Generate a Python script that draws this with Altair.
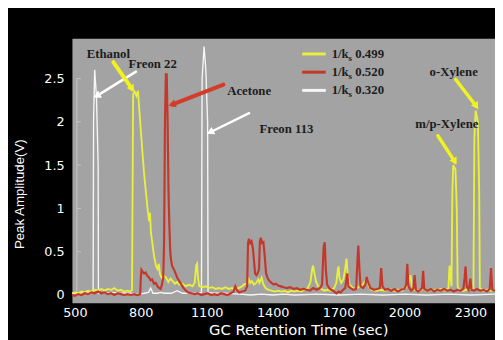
import altair as alt
import pandas as pd

# ---------------- data ----------------
x_ticks = [500, 800, 1100, 1400, 1700, 2000, 2300]
y_ticks = [0, 0.5, 1, 1.5, 2, 2.5]

white_t = [487, 520, 560, 583, 585, 590, 598, 606, 607, 630, 670, 710, 750, 790, 815, 835, 845, 855, 875, 890, 905, 940, 965, 990,
           1020, 1050, 1076, 1079, 1088, 1096, 1104, 1106, 1130, 1180, 1250, 1300, 1350, 1400, 1450, 1500, 1600, 1700,
           1800, 1900, 2000, 2100, 2200, 2300, 2412]
white_v = [0.02, 0.02, 0.03, 0.02, 2.0, 2.6, 2.3, 1.5, 0.02, 0.02, 0.03, 0.02, 0.02, 0.01, 0.02, 0.03, 0.08, 0.02, 0.02, 0.03, 0.02, 0.02, 0.05, 0.02,
           0.02, 0.02, 0.03, 2.5, 2.87, 2.6, 2.0, 0.03, 0.02, 0.02, 0.01, 0.0, 0.01, 0.0, 0.01, 0.0, 0.01, 0.0,
           0.01, 0.0, 0.01, 0.0, 0.01, 0.0, 0.01]

yellow_t = [487, 500, 515, 530, 545, 560, 575, 590, 605, 620, 635, 650, 665, 680, 695, 710, 725, 740, 752, 760,
            763, 765, 772, 780, 787, 800, 815, 831, 838, 842, 846, 850, 860, 870, 876, 882, 887, 895, 905, 915,
            925, 935, 945, 955, 965, 975, 990, 1005, 1020, 1035, 1045, 1052, 1056, 1060, 1066, 1080, 1095, 1110,
            1125, 1140, 1155, 1170, 1185, 1200, 1215, 1230, 1245, 1260, 1275, 1285, 1292, 1298, 1305, 1315, 1325,
            1335, 1340, 1350, 1358, 1368, 1380, 1395, 1410, 1425, 1440, 1455, 1470, 1485, 1500, 1515, 1530, 1545,
            1560, 1572, 1580, 1584, 1590, 1598, 1608, 1620, 1635, 1650, 1665, 1680, 1690, 1697, 1700, 1704, 1712,
            1722, 1730, 1736, 1741, 1750, 1765, 1780, 1795, 1810, 1822, 1830, 1838, 1850, 1870, 1890, 1910, 1930,
            1950, 1970, 1990, 2005, 2018, 2027, 2034, 2045, 2065, 2085, 2105, 2125, 2145, 2165, 2185, 2200, 2205,
            2210, 2214, 2218, 2222, 2232, 2238, 2242, 2250, 2270, 2290, 2305, 2314, 2318, 2324, 2334, 2340, 2343,
            2360, 2380, 2395, 2412]
yellow_v = [0.02, 0.03, 0.02, 0.04, 0.03, 0.05, 0.04, 0.06, 0.05, 0.07, 0.05, 0.07, 0.06, 0.08, 0.05, 0.06, 0.04, 0.05, 0.04, 0.06,
            1.4, 2.32, 2.35, 2.3, 2.36, 1.9, 1.4, 0.99, 0.85, 0.95, 0.72, 0.65, 0.45, 0.33, 0.3, 0.36, 0.24, 0.2, 0.22, 0.2,
            0.15, 0.19, 0.16, 0.13, 0.15, 0.12, 0.13, 0.1, 0.12, 0.1, 0.14, 0.34, 0.36, 0.2, 0.1, 0.09, 0.1, 0.08,
            0.09, 0.07, 0.08, 0.07, 0.09, 0.07, 0.08, 0.06, 0.08, 0.1, 0.13, 0.12, 0.18, 0.14, 0.16, 0.12, 0.14,
            0.18, 0.14, 0.2, 0.12, 0.08, 0.06, 0.05, 0.04, 0.05, 0.04, 0.05, 0.03, 0.05, 0.04, 0.05, 0.04, 0.06,
            0.08, 0.15, 0.3, 0.34, 0.25, 0.15, 0.1, 0.07, 0.05, 0.06, 0.05, 0.08, 0.14, 0.3, 0.33, 0.2, 0.14,
            0.18, 0.3, 0.42, 0.25, 0.12, 0.08, 0.07, 0.1, 0.12, 0.16, 0.19, 0.1, 0.06, 0.05, 0.06, 0.05, 0.07,
            0.05, 0.06, 0.05, 0.08, 0.12, 0.23, 0.1, 0.06, 0.05, 0.07, 0.05, 0.06, 0.05, 0.07, 0.05, 0.08, 0.34,
            0.2, 0.1, 1.2, 1.5, 1.45, 1.0, 0.1, 0.06, 0.05, 0.07, 0.06, 0.08, 1.8, 2.13, 2.0, 1.2, 0.08,
            0.05, 0.06, 0.05, 0.06]

red_t = [487, 500, 515, 530, 545, 560, 575, 590, 605, 620, 635, 650, 665, 680, 695, 710, 725, 740, 755, 770,
         785, 797, 800, 803, 808, 815, 822, 830, 838, 845, 852, 860, 868, 876, 884, 890, 896, 902, 906, 910,
         914, 918, 922, 926, 930, 934, 938, 943, 950, 958, 966, 975, 985, 995, 1005, 1015, 1030, 1045, 1060,
         1075, 1090, 1105, 1120, 1135, 1150, 1165, 1180, 1195, 1210, 1222, 1230, 1236, 1248, 1260, 1275, 1284,
         1288, 1292, 1298, 1304, 1310, 1315, 1320, 1326, 1332, 1338, 1342, 1346, 1352, 1358, 1364, 1370, 1378,
         1386, 1395, 1405, 1415, 1425, 1438, 1450, 1465, 1480, 1495, 1510, 1525, 1540, 1555, 1570, 1585, 1600,
         1615, 1625, 1632, 1637, 1642, 1648, 1660, 1675, 1690, 1700, 1710, 1720, 1730, 1740, 1745, 1755, 1768,
         1780, 1786, 1790, 1795, 1800, 1812, 1822, 1828, 1834, 1845, 1860, 1875, 1888, 1894, 1900, 1912, 1925,
         1940, 1955, 1970, 1985, 2000, 2008, 2013, 2018, 2030, 2040, 2046, 2052, 2062, 2072, 2080, 2085, 2090,
         2105, 2120, 2135, 2150, 2165, 2180, 2195, 2210, 2225, 2240, 2255, 2268, 2274, 2278, 2283, 2292, 2300,
         2305, 2318, 2330, 2345, 2360, 2375, 2388, 2394, 2400, 2412]
red_v = [0.0, -0.01, 0.01, 0.0, 0.02, 0.01, 0.03, 0.02, 0.04, 0.02, 0.03, 0.01, 0.02, 0.0, 0.02, 0.01, 0.0, 0.01, 0.0, 0.01,
         0.0, 0.01, 0.2, 0.29, 0.27, 0.25, 0.26, 0.22, 0.2, 0.17, 0.18, 0.13, 0.14, 0.1, 0.08, 0.07, 0.12, 0.2, 0.6, 2.0,
         2.55, 2.55, 2.0, 1.2, 0.8, 0.5, 0.4, 0.33, 0.3, 0.25, 0.2, 0.16, 0.12, 0.08, 0.05, 0.03, 0.02, 0.01, 0.02,
         0.0, 0.01, 0.02, 0.0, 0.01, 0.0, 0.02, 0.01, 0.0, 0.02, 0.04, 0.1, 0.06, 0.03, 0.04, 0.05, 0.1,
         0.6, 0.65, 0.6, 0.62, 0.54, 0.4, 0.25, 0.23, 0.25, 0.3, 0.62, 0.66, 0.6, 0.61, 0.45, 0.25, 0.19,
         0.16, 0.14, 0.12, 0.13, 0.11, 0.1, 0.09, 0.08, 0.09, 0.07, 0.08, 0.06, 0.07, 0.06, 0.05, 0.08, 0.06,
         0.08, 0.12, 0.55, 0.61, 0.3, 0.12, 0.07, 0.05, 0.02, 0.04, 0.03, 0.06, 0.08, 0.25, 0.1, 0.08, 0.06,
         0.07, 0.4, 0.57, 0.3, 0.1, 0.08, 0.12, 0.21, 0.15, 0.08, 0.06, 0.07, 0.08, 0.31, 0.1, 0.06, 0.07,
         0.05, 0.07, 0.04, 0.06, 0.07, 0.12, 0.36, 0.1, 0.05, 0.07, 0.23, 0.06, 0.04, 0.06, 0.08, 0.28, 0.07,
         0.05, 0.07, 0.04, 0.06, 0.05, 0.07, 0.05, 0.06, 0.04, 0.06, 0.05, 0.07, 0.2, 0.33, 0.1, 0.06, 0.19,
         0.06, 0.05, 0.07, 0.05, 0.06, 0.04, 0.07, 0.31, 0.06, 0.05]

legend_values = ["0.499", "0.520", "0.320"]
legend_colors = ["#e8ef3c", "#c4382c", "#f6f6f6"]

ann_text = ["Ethanol", "Freon 22", "Acetone", "Freon 113", "o-Xylene", "m/p-Xylene"]
ann_t = [652, 854, 1293, 1463, 2224, 2193]
ann_v = [2.78, 2.67, 2.35, 1.92, 2.57, 1.98]

arr_t1 = [778, 675, 1176, 1293, 2233, 2152]
arr_v1 = [2.58, 2.69, 2.43, 2.10, 2.49, 1.84]
arr_t2 = [600, 760, 942, 1116, 2327, 2229]
arr_v2 = [2.30, 2.38, 2.20, 1.88, 2.18, 1.54]
arr_color = ["#ffffff", "#f2f21e", "#d23c28", "#ffffff", "#f2f21e", "#f2f21e"]
arr_width = [2.5, 4, 4, 2.5, 3.5, 3.5]
arr_angle = [242, 148, 251, 243, 146, 151]

# ---------------- scales / axes ----------------
xs = alt.Scale(domain=[486.6, 2412], nice=False, zero=False)
ys = alt.Scale(domain=[-0.091, 2.966], nice=False, zero=False)

x_axis = alt.Axis(values=x_ticks, format="d", title="GC Retention Time (sec)", domain=False, ticks=False,
                  grid=False, labelColor="#ffffff", labelFont="DejaVu Sans", labelFontSize=13, labelPadding=4,
                  titleColor="#ffffff", titleFont="DejaVu Sans", titleFontSize=15, titleFontWeight="normal",
                  titleX=230, titleY=32, titleBaseline="alphabetic", titleAlign="center")
y_axis = alt.Axis(values=y_ticks, labelExpr="datum.value + ''", title="Peak Amplitude(V)", domain=False,
                  ticks=False, grid=False, labelColor="#ffffff", labelFont="DejaVu Sans", labelFontSize=13,
                  labelPadding=8, titleColor="#ffffff", titleFont="Liberation Sans", titleFontSize=13.5,
                  titleFontWeight="normal", titleX=-53, titleY=158, titleBaseline="middle", titleAlign="center")

X = alt.X("t:Q", scale=xs, axis=x_axis)
Y = alt.Y("v:Q", scale=ys, axis=y_axis)

df_w = pd.DataFrame({"t": white_t, "v": white_v})
df_y = pd.DataFrame({"t": yellow_t, "v": yellow_v})
df_r = pd.DataFrame({"t": red_t, "v": red_v})

layers = []

# faint inner y axis line with ticks
tick_df = pd.DataFrame({"t": [0] * len(y_ticks), "v": y_ticks})
layers.append(alt.Chart(pd.DataFrame({"t": [0], "v": [0], "v2": [2.5]})).mark_rule(color="#d0d0d0", strokeWidth=1, opacity=0.8)
              .encode(x=alt.value(5), y=Y, y2="v2:Q"))
layers.append(alt.Chart(tick_df).mark_rule(color="#d0d0d0", strokeWidth=1, opacity=0.8)
              .encode(x=alt.value(5), x2=alt.value(9), y=Y))

layers.append(alt.Chart(df_w).mark_line(color=legend_colors[2], strokeWidth=1.4, clip=True).encode(x=X, y=Y))
layers.append(alt.Chart(df_y).mark_line(color=legend_colors[0], strokeWidth=1.9, clip=True).encode(x=X, y=Y))
layers.append(alt.Chart(df_r).mark_line(color=legend_colors[1], strokeWidth=2.2, clip=True).encode(x=X, y=Y))

# arrows
arr_df = pd.DataFrame({"t": arr_t1, "v": arr_v1, "t2": arr_t2, "v2": arr_v2, "c": arr_color,
                       "w": arr_width, "a": arr_angle})
layers.append(alt.Chart(arr_df).mark_rule(strokeCap="round").encode(
    x=X, y=Y, x2="t2:Q", y2="v2:Q", color=alt.Color("c:N", scale=None),
    size=alt.Size("w:Q", scale=None)))
head_df = pd.DataFrame({"t": arr_t2, "v": arr_v2, "c": arr_color, "a": arr_angle})
layers.append(alt.Chart(head_df).mark_point(shape="triangle-up", filled=True, size=70, opacity=1).encode(
    x=X, y=Y, color=alt.Color("c:N", scale=None), angle=alt.Angle("a:Q", scale=None)))

# annotations
ann_df = pd.DataFrame({"t": ann_t, "v": ann_v, "txt": ann_text})
layers.append(alt.Chart(ann_df).mark_text(font="Liberation Serif", fontWeight="bold", fontSize=13,
                                          color="#1c1c1c", align="center", baseline="middle")
              .encode(x=X, y=Y, text="txt:N"))

# legend (drawn manually)
one = pd.DataFrame({"a": [0]})
for i, (val, col) in enumerate(zip(legend_values, legend_colors)):
    yy = 16 + 18.5 * i
    layers.append(alt.Chart(one).mark_rule(color=col, strokeWidth=3)
                  .encode(x=alt.value(234), x2=alt.value(258), y=alt.value(yy)))
    layers.append(alt.Chart(one).mark_text(text="1/k", font="Liberation Serif", fontWeight="bold", fontSize=13,
                                           color="#1c1c1c", align="left", baseline="middle")
                  .encode(x=alt.value(264), y=alt.value(yy)))
    layers.append(alt.Chart(one).mark_text(text="s", font="Liberation Serif", fontWeight="bold", fontSize=9,
                                           color="#1c1c1c", align="left", baseline="middle")
                  .encode(x=alt.value(281), y=alt.value(yy + 4)))
    layers.append(alt.Chart(one).mark_text(text=val, font="Liberation Serif", fontWeight="bold", fontSize=13,
                                           color="#1c1c1c", align="left", baseline="middle")
                  .encode(x=alt.value(288), y=alt.value(yy)))

chart = alt.layer(*layers).properties(
    width=430, height=269,
    autosize=alt.AutoSizeParams(type="none"),
    padding={"left": 65, "top": 28, "right": 0, "bottom": 35},
).configure(background="#000000").configure_view(fill="#a3a3a3", stroke="transparent")

chart.save("out.html", embed_options={"renderer": "svg", "actions": False})
